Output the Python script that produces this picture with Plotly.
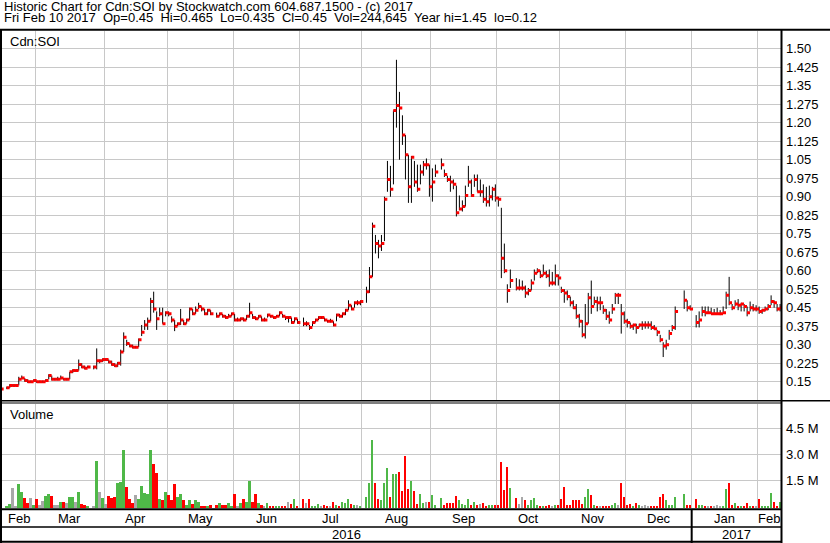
import pandas as pd
import plotly.graph_objects as go

# Cdn:SOI - historico diario, un dia por dia habil (None = feriado de la bolsa)
fechas = pd.bdate_range("2016-02-12", "2017-02-10")

cierre = [
    0.12, None, 0.125, 0.135, 0.135, 0.135, 0.16, 0.165, 0.155, 0.15,          # 0
    0.15, 0.155, 0.15, 0.15, 0.15, 0.155, 0.175, 0.16, 0.16, 0.16,             # 10
    0.165, 0.16, 0.16, 0.19, 0.195, 0.195, 0.22, 0.21, 0.205, 0.21,            # 20
    None, 0.21, 0.235, 0.235, 0.24, 0.24, 0.23, 0.22, 0.215, 0.225,            # 30
    0.27, 0.33, 0.305, 0.295, 0.29, 0.29, 0.32, 0.35, 0.38, 0.395,             # 40
    0.475, 0.445, 0.405, 0.425, 0.385, 0.43, 0.425, 0.40, 0.375, 0.385,        # 50
    0.40, 0.385, 0.40, 0.445, 0.425, 0.44, 0.455, 0.445, 0.425, 0.44,          # 60
    0.425, None, 0.415, 0.425, 0.415, 0.41, 0.415, 0.425, 0.40, 0.40,          # 70
    0.405, 0.40, 0.415, 0.43, 0.41, 0.405, 0.415, 0.40, 0.40, 0.42,            # 80
    0.415, 0.41, 0.415, 0.43, 0.415, 0.41, 0.41, 0.39, 0.405, 0.39,            # 90
    None, 0.385, 0.385, 0.37, 0.39, 0.40, 0.41, 0.41, 0.40, 0.395,             # 100
    0.395, 0.38, 0.42, 0.415, 0.425, 0.44, 0.46, 0.445, 0.47, 0.47,            # 110
    0.475, None, 0.515, 0.575, 0.78, 0.71, 0.70, 0.71, 0.89, 0.97,             # 120
    0.93, 1.25, 1.27, 1.26, 1.15, 1.07, 0.94, 1.06, 0.96, 0.93,                # 130
    1.00, 1.03, 1.03, 0.94, 0.96, 1.00, None, 1.03, 0.99, 0.97,                # 140
    0.96, 0.95, 0.835, 0.85, 0.86, 0.905, 0.96, 0.905, 0.97, 0.92,             # 150
    0.92, 0.89, 0.88, 0.90, 0.93, 0.895, 0.89, 0.65, 0.60, 0.52,               # 160
    0.56, None, 0.53, 0.53, 0.53, 0.51, 0.52, 0.55, 0.59, 0.60,                # 170
    0.58, 0.59, 0.58, 0.55, 0.55, 0.58, 0.57, 0.52, 0.51, 0.495,               # 180
    0.47, 0.45, 0.415, 0.395, 0.34, 0.385, 0.49, 0.455, 0.475, 0.47,           # 190
    0.47, 0.44, 0.415, 0.40, 0.445, 0.50, 0.50, 0.425, 0.395, 0.39,            # 200
    0.375, 0.38, 0.37, 0.38, 0.38, 0.38, 0.38, 0.37, 0.365, 0.35,              # 210
    0.32, 0.295, 0.30, 0.345, 0.37, 0.435, None, None, 0.48, 0.45,             # 220
    0.445, None, 0.39, 0.40, 0.435, 0.43, 0.43, 0.425, 0.425, 0.425,           # 230
    0.425, 0.43, 0.50, 0.47, 0.45, 0.465, 0.46, 0.465, 0.455, 0.43,            # 240
    0.45, 0.445, 0.445, 0.435, 0.44, 0.445, 0.455, 0.475, 0.47, 0.445,         # 250
    0.45,                                                                       # 260
]

maximo = [
    0.13, None, 0.13, 0.14, 0.14, 0.14, 0.17, 0.175, 0.165, 0.16,
    0.155, 0.16, 0.155, 0.155, 0.155, 0.16, 0.18, 0.175, 0.165, 0.17,
    0.175, 0.165, 0.165, 0.19, 0.20, 0.20, 0.24, 0.225, 0.215, 0.215,
    None, 0.215, 0.285, 0.24, 0.245, 0.245, 0.24, 0.235, 0.225, 0.23,
    0.28, 0.35, 0.32, 0.305, 0.30, 0.295, 0.325, 0.38, 0.40, 0.41,
    0.49, 0.515, 0.435, 0.45, 0.45, 0.435, 0.435, 0.415, 0.40, 0.39,
    0.445, 0.40, 0.405, 0.45, 0.445, 0.455, 0.47, 0.455, 0.445, 0.445,
    0.44, None, 0.43, 0.43, 0.425, 0.42, 0.425, 0.43, 0.425, 0.41,
    0.41, 0.41, 0.42, 0.47, 0.425, 0.415, 0.42, 0.415, 0.41, 0.425,
    0.42, 0.415, 0.42, 0.435, 0.425, 0.415, 0.415, 0.41, 0.41, 0.405,
    None, 0.41, 0.395, 0.38, 0.395, 0.405, 0.415, 0.415, 0.41, 0.40,
    0.405, 0.395, 0.425, 0.425, 0.43, 0.445, 0.48, 0.46, 0.475, 0.48,
    0.48, None, 0.535, 0.615, 0.795, 0.745, 0.725, 0.745, 0.90, 1.045,
    1.025, 1.25, 1.455, 1.325, 1.23, 1.15, 1.07, 1.065, 1.045, 1.03,
    1.03, 1.045, 1.055, 1.03, 1.015, 1.03, None, 1.055, 1.01, 0.985,
    0.985, 0.97, 0.945, 0.905, 0.885, 0.945, 1.025, 0.97, 0.99, 0.99,
    0.97, 0.95, 0.94, 0.945, 0.94, 0.95, 0.90, 0.855, 0.71, 0.545,
    0.605, None, 0.57, 0.565, 0.56, 0.54, 0.53, 0.565, 0.605, 0.61,
    0.60, 0.625, 0.60, 0.605, 0.595, 0.625, 0.585, 0.535, 0.525, 0.52,
    0.495, 0.48, 0.465, 0.425, 0.40, 0.465, 0.51, 0.56, 0.495, 0.495,
    0.495, 0.46, 0.445, 0.435, 0.465, 0.51, 0.51, 0.465, 0.435, 0.405,
    0.39, 0.385, 0.385, 0.385, 0.395, 0.395, 0.395, 0.395, 0.38, 0.36,
    0.34, 0.31, 0.32, 0.36, 0.38, 0.455, None, None, 0.52, 0.48,
    0.46, None, 0.42, 0.435, 0.455, 0.455, 0.455, 0.45, 0.445, 0.45,
    0.44, 0.455, 0.515, 0.575, 0.465, 0.48, 0.485, 0.47, 0.465, 0.455,
    0.475, 0.465, 0.46, 0.455, 0.445, 0.455, 0.465, 0.50, 0.48, 0.465,
    0.465,
]

minimo = [
    0.115, None, 0.12, 0.125, 0.13, 0.13, 0.135, 0.16, 0.15, 0.145,
    0.145, 0.15, 0.145, 0.145, 0.145, 0.15, 0.16, 0.155, 0.155, 0.155,
    0.16, 0.155, 0.155, 0.16, 0.185, 0.19, 0.195, 0.205, 0.20, 0.205,
    None, 0.20, 0.20, 0.225, 0.23, 0.235, 0.225, 0.215, 0.21, 0.21,
    0.215, 0.27, 0.295, 0.29, 0.285, 0.285, 0.29, 0.335, 0.36, 0.36,
    0.395, 0.43, 0.36, 0.415, 0.385, 0.415, 0.415, 0.39, 0.355, 0.375,
    0.38, 0.38, 0.385, 0.40, 0.42, 0.425, 0.445, 0.435, 0.42, 0.42,
    0.42, None, 0.41, 0.415, 0.41, 0.405, 0.41, 0.415, 0.395, 0.395,
    0.395, 0.395, 0.40, 0.41, 0.405, 0.40, 0.405, 0.395, 0.395, 0.41,
    0.41, 0.405, 0.41, 0.415, 0.41, 0.40, 0.39, 0.385, 0.39, 0.385,
    None, 0.375, 0.375, 0.36, 0.375, 0.39, 0.40, 0.405, 0.395, 0.39,
    0.39, 0.375, 0.395, 0.41, 0.41, 0.42, 0.44, 0.44, 0.45, 0.46,
    0.46, None, 0.47, 0.51, 0.575, 0.67, 0.65, 0.68, 0.72, 0.92,
    0.90, 0.95, 1.18, 1.05, 1.11, 0.97, 0.875, 0.875, 0.94, 0.92,
    0.95, 0.985, 1.01, 0.90, 0.88, 0.98, None, 1.01, 0.98, 0.96,
    0.92, 0.93, 0.82, 0.845, 0.84, 0.86, 0.94, 0.90, 0.94, 0.92,
    0.90, 0.875, 0.86, 0.86, 0.885, 0.88, 0.86, 0.57, 0.59, 0.47,
    0.53, None, 0.52, 0.52, 0.52, 0.49, 0.50, 0.52, 0.56, 0.59,
    0.57, 0.58, 0.57, 0.535, 0.54, 0.54, 0.54, 0.51, 0.47, 0.48,
    0.455, 0.445, 0.405, 0.37, 0.33, 0.325, 0.385, 0.425, 0.46, 0.435,
    0.44, 0.425, 0.40, 0.385, 0.425, 0.465, 0.465, 0.345, 0.385, 0.37,
    0.365, 0.36, 0.345, 0.37, 0.36, 0.365, 0.365, 0.36, 0.36, 0.335,
    0.31, 0.25, 0.28, 0.32, 0.355, 0.36, None, None, 0.445, 0.435,
    0.44, None, 0.37, 0.37, 0.415, 0.415, 0.425, 0.425, 0.425, 0.425,
    0.42, 0.425, 0.445, 0.46, 0.44, 0.455, 0.44, 0.435, 0.435, 0.415,
    0.435, 0.435, 0.435, 0.425, 0.425, 0.435, 0.44, 0.46, 0.45, 0.435,
    0.435,
]

# volumen en millones de acciones
volumen = [
    0.05, None, 0.03, 0.14, 1.07, 0.02, 1.3, 0.84, 0.49, 0.18,
    0.47, 0.07, 0.41, 0.07, 0.3, 0.59, 0.7, 0.61, 0.07, 0.07,
    0.24, 0.24, 0.2, 0.53, 0.57, 0.26, 0.82, 0.12, 0.09, 0.01,
    None, 0.02, 2.62, 0.84, 0.49, 0.14, 0.61, 0.49, 0.53, 1.34,
    1.42, 3.26, 1.13, 0.45, 0.17, 0.63, 0.45, 1.21, 0.8, 0.74,
    3.28, 2.43, 1.93, 0.4, 0.34, 0.86, 0.63, 0.34, 1.27, 0.57,
    0.69, 0.34, 0.05, 0.34, 0.14, 0.38, 0.28, 0.03, 0.02, 0.02,
    0.1, None, 0.1, 0.22, 0.05, 0.05, 0.22, 0.02, 0.69, 0.01,
    0.22, 0.4, 0.28, 1.5, 0.28, 0.74, 0.22, 0.1, 0.02, 0.2,
    0.03, 0.03, 0.02, 0.03, 0.03, 0.03, 0.28, 0.16, 0.4, 0.02,
    None, 0.45, 0.22, 0.45, 0.02, 0.02, 0.16, 0.02, 0.05, 0.02,
    0.01, 0.28, 0.1, 0.02, 0.28, 0.22, 0.45, 0.16, 0.1, 0.05,
    0.02, None, 0.57, 1.33, 3.83, 1.38, 0.4, 0.34, 1.38, 2.2,
    0.57, 1.89, 1.89, 2.0, 0.9, 2.93, 1.0, 1.48, 0.9, 0.14,
    0.7, 0.2, 0.26, 0.26, 0.67, 0.09, None, 0.47, 0.09, 0.2,
    0.2, 0.2, 0.59, 0.38, 0.14, 0.09, 0.41, 0.09, 0.26, 0.09,
    0.14, 0.2, 0.03, 0.09, 0.09, 0.09, 0.09, 2.59, 0.96, 2.3,
    1.07, None, 0.49, 0.14, 0.52, 0.36, 0.05, 0.34, 0.51, 0.1,
    0.02, 0.02, 0.02, 0.1, 0.02, 0.1, 0.1, 0.4, 1.15, 0.05,
    0.1, 0.34, 0.34, 0.34, 0.16, 0.57, 1.03, 0.63, 0.05, 0.02,
    0.02, 0.02, 0.02, 0.02, 0.05, 0.22, 0.05, 1.33, 0.57, 0.05,
    0.16, 0.02, 0.22, 0.05, 0.02, 0.1, 0.02, 0.02, 0.02, 0.03,
    0.57, 0.74, 0.34, 0.1, 0.1, 0.57, None, None, 0.69, 0.05,
    0.05, None, 0.4, 0.1, 0.05, 0.02, 0.02, 0.02, 0.02, 0.1,
    0.02, 0.02, 1.03, 1.33, 0.05, 0.22, 0.02, 0.02, 0.02, 0.22,
    0.02, 0.02, 0.02, 0.45, 0.02, 0.02, 0.02, 0.8, 0.28, 0.02,
    0.245,
]

precio_ticks = [0.15, 0.225, 0.30, 0.375, 0.45, 0.525, 0.60, 0.675, 0.75, 0.825,
                0.90, 0.975, 1.05, 1.125, 1.20, 1.275, 1.35, 1.425, 1.50]
precio_textos = ["0.15", "0.225", "0.30", "0.375", "0.45", "0.525", "0.60", "0.675",
                 "0.75", "0.825", "0.90", "0.975", "1.05", "1.125", "1.20", "1.275",
                 "1.35", "1.425", "1.50"]
vol_ticks = [1.5e6, 3.0e6, 4.5e6]
vol_textos = ["1.5 M", "3.0 M", "4.5 M"]

titulo1 = "Historic Chart for Cdn:SOI by Stockwatch.com 604.687.1500 - (c) 2017"
titulo2 = ("Fri Feb 10 2017\u00a0 Op=0.45\u00a0 Hi=0.465\u00a0 Lo=0.435\u00a0 Cl=0.45\u00a0 "
           "Vol=244,645\u00a0 Year hi=1.45\u00a0 lo=0.12")

for serie in (cierre, maximo, minimo, volumen):
    if len(serie) != len(fechas):
        raise ValueError("serie con largo %d, se esperaba %d" % (len(serie), len(fechas)))

VERDE, ROJO, GRIS = "#4FB848", "#FF0000", "#A8A8A8"
GRILLA = "#C8C8C8"
FUENTE = "Liberation Sans, Arial, sans-serif"
W, H = 830, 543
X_MIN, X_MAX = 0.4, 260.3
VOL_BASE = -0.125e6


def px(x):
    return x / W


def py(y):
    return 1 - y / H


# barras maximo-minimo y marca de cierre
x_hl, y_hl, x_c, y_c = [], [], [], []
x_v, h_v, col_v = [], [], []
previo = None
for i, (c, hi, lo, v) in enumerate(zip(cierre, maximo, minimo, volumen)):
    if c is None:
        continue
    x_hl += [i, i, None]
    y_hl += [lo, hi, None]
    x_c.append(i + 0.45)
    y_c.append(c)
    if previo is None or c == previo:
        col_v.append(GRIS)
    elif c > previo:
        col_v.append(VERDE)
    else:
        col_v.append(ROJO)
    previo = c
    x_v.append(i)
    h_v.append(v * 1e6 - VOL_BASE)

fig = go.Figure()
fig.add_trace(go.Scatter(x=x_hl, y=y_hl, mode="lines", line=dict(color="black", width=1),
                         hoverinfo="skip", xaxis="x", yaxis="y"))
fig.add_trace(go.Scatter(x=x_c, y=y_c, mode="markers", hoverinfo="skip",
                         marker=dict(symbol="square", size=3, color=ROJO, line=dict(width=0)),
                         xaxis="x", yaxis="y"))
fig.add_trace(go.Bar(x=x_v, y=h_v, base=VOL_BASE, width=0.62, marker=dict(color=col_v, line=dict(width=0)),
                     hoverinfo="skip", xaxis="x2", yaxis="y2"))

# limites de mes (en posicion de dia habil)
serie_mes = pd.Series(fechas.to_period("M"))
inicio_mes = [i for i in range(1, len(fechas)) if serie_mes[i] != serie_mes[i - 1]]
limites = [i - 0.5 for i in inicio_mes]
bordes = [X_MIN] + limites + [X_MAX]
nombres_mes = [p.strftime("%b") for p in serie_mes.unique()]

eje_x = dict(range=[X_MIN, X_MAX], domain=[px(2), px(781)], tickvals=limites,
             showticklabels=False, showgrid=True, gridcolor=GRILLA, gridwidth=1,
             zeroline=False, showline=False, ticks="")
fig.update_layout(
    width=W, height=H, margin=dict(l=0, r=0, t=0, b=0),
    paper_bgcolor="white", plot_bgcolor="white", showlegend=False, bargap=0,
    font=dict(family=FUENTE, size=13, color="black"),
    xaxis=dict(eje_x, anchor="y"),
    xaxis2=dict(eje_x, anchor="y2", matches="x"),
    yaxis=dict(domain=[py(400.5), py(31)], range=[0.0738, 1.5718], side="right",
               tickvals=precio_ticks, ticktext=precio_textos, showgrid=True,
               gridcolor=GRILLA, zeroline=False, ticks="", ticklabelstandoff=4,
               anchor="x"),
    yaxis2=dict(domain=[py(508), py(403.5)], range=[VOL_BASE, 5.94e6], side="right",
                tickvals=vol_ticks, ticktext=vol_textos, showgrid=True,
                gridcolor=GRILLA, zeroline=False, ticks="", ticklabelstandoff=4,
                anchor="x2"),
)

notas = [
    dict(text=titulo1, x=px(2), y=py(6.5), xref="paper", yref="paper"),
    dict(text=titulo2, x=px(2), y=py(17.5), xref="paper", yref="paper"),
    dict(text="Cdn:SOI", x=px(8), y=py(41), xref="paper", yref="paper"),
    dict(text="Volume", x=px(8), y=py(414), xref="paper", yref="paper"),
]
for k, nombre in enumerate(nombres_mes):
    notas.append(dict(text=nombre, x=(bordes[k] + bordes[k + 1]) / 2, y=py(518.5),
                      xref="x", yref="paper", xanchor="center"))
corte_anio = limites[nombres_mes.index("Jan") - 1]
notas.append(dict(text="2016", x=(X_MIN + corte_anio) / 2, y=py(534.5), xref="x",
                  yref="paper", xanchor="center"))
notas.append(dict(text="2017", x=(corte_anio + X_MAX) / 2, y=py(534.5), xref="x",
                  yref="paper", xanchor="center"))
for n in notas:
    n.setdefault("xanchor", "left")
    fig.add_annotation(showarrow=False, yanchor="middle", font=dict(size=13), **n)


def linea(x0, y0, x1, y1, ancho, xref="paper"):
    fig.add_shape(type="line", xref=xref, yref="paper", x0=x0, y0=py(y0), x1=x1, y1=py(y1),
                  line=dict(color="black", width=ancho), layer="above")


linea(0, 29.7, 1, 29.7, 2)                  # bajo el encabezado
linea(px(1), 29.7, px(1), 543, 2)           # borde izquierdo
linea(px(781.5), 29.7, px(781.5), 543, 2)   # eje derecho
linea(0, 400.7, 1, 400.7, 1.5)              # separacion precio / volumen
linea(0, 403, px(781.5), 403, 1)
linea(0, 509.3, px(781.5), 509.3, 2)        # base del volumen
linea(0, 527, px(781.5), 527, 1.5)
linea(0, 541.8, px(781.5), 541.8, 2)
linea(corte_anio, 509.3, corte_anio, 543, 2, xref="x")

# sin margen del navegador ni barra de herramientas
fig.write_html("out.html", config={"displayModeBar": False},
               post_script="document.body.style.margin='0';")
